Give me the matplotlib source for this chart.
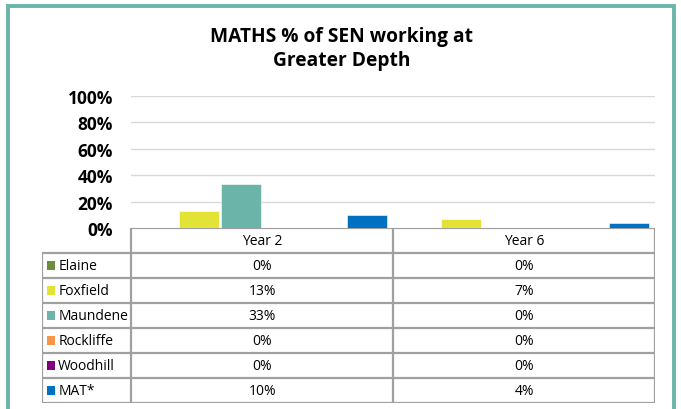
import matplotlib
matplotlib.use("Agg")
import matplotlib.pyplot as plt
from matplotlib.patches import Rectangle
import numpy as np

plt.rcParams['font.family'] = ['Open Sans', 'DejaVu Sans']

categories = ["Year 2", "Year 6"]
series = ["Elaine", "Foxfield", "Maundene", "Rockliffe", "Woodhill", "MAT*"]
values = {
    "Elaine": [0, 0],
    "Foxfield": [13, 7],
    "Maundene": [33, 0],
    "Rockliffe": [0, 0],
    "Woodhill": [0, 0],
    "MAT*": [10, 4],
}
colors = ["#6b8e3e", "#e3e236", "#6bb4a9", "#f79646", "#7f007f", "#0070c0"]
yticks = [0, 20, 40, 60, 80, 100]

W, H = 681, 410
fig = plt.figure(figsize=(W / 100, H / 100), dpi=100)

def px(x0, y0, x1, y1):
    # pixel box (top-left origin) -> figure fraction rect
    return [x0 / W, 1 - y1 / H, (x1 - x0) / W, (y1 - y0) / H]

# chart frame
fig.patches.append(Rectangle((8 / W, -0.02), 666 / W, 1.0 - 7 / H + 0.02,
                             transform=fig.transFigure, fill=False,
                             edgecolor="#6bb4a9", linewidth=2.8))

fig.text(342 / W, 1 - 49 / H, "MATHS % of SEN working at\nGreater Depth",
         transform=fig.transFigure, ha="center", va="center",
         fontsize=13.8, fontweight="bold", linespacing=1.3)

# bar chart
ax = fig.add_axes(px(131, 97, 655, 229))
x = np.arange(len(categories))
slot = 0.161
for i, name in enumerate(series):
    ax.bar(x + (i - 2.5) * slot, values[name], width=0.153,
           color=colors[i], edgecolor="white", linewidth=0.4, zorder=3)
ax.set_xlim(-0.5, len(categories) - 0.5)
ax.set_ylim(0, 100)
ax.set_yticks(yticks)
ax.set_yticklabels([f"{v}%" for v in yticks], fontsize=12.5, fontweight="bold")
ax.tick_params(axis="y", length=0, pad=13)
ax.set_xticks([])
ax.grid(axis="y", color="#d9d9d9", linewidth=1, zorder=0)
for s in ax.spines.values():
    s.set_visible(False)

# data table
tab = fig.add_axes(px(42, 229, 655, 404))
label_w = (131 - 42) / 261  # legend column width in category units
left = -0.5 - label_w
n = len(series)
tab.set_xlim(left, len(categories) - 0.5)
tab.set_ylim(n + 1, 0)
tab.axis("off")
lc, lw = "#a0a0a0", 1.6

# header row
tab.hlines(0, -0.5, len(categories) - 0.5, color=lc, lw=lw)
for j, cat in enumerate(categories):
    tab.text(j, 0.5, cat, ha="center", va="center", fontsize=10)
# body rows
for r in range(1, n + 2):
    tab.hlines(r, left, len(categories) - 0.5, color=lc, lw=lw)
for xv in [-0.5 + k for k in range(len(categories) + 1)]:
    tab.vlines(xv, 0, n + 1, color=lc, lw=lw)
tab.vlines(left, 1, n + 1, color=lc, lw=lw)
for i, name in enumerate(series):
    y = i + 1.5
    tab.add_patch(Rectangle((left + 0.02, y - 0.17), 0.031, 0.34,
                            facecolor=colors[i], edgecolor="none"))
    tab.text(left + 0.062, y, name, ha="left", va="center", fontsize=10)
    for j in range(len(categories)):
        tab.text(j, y, f"{values[name][j]}%", ha="center", va="center",
                 fontsize=10)

fig.savefig("out.png", dpi=100, facecolor="white")
